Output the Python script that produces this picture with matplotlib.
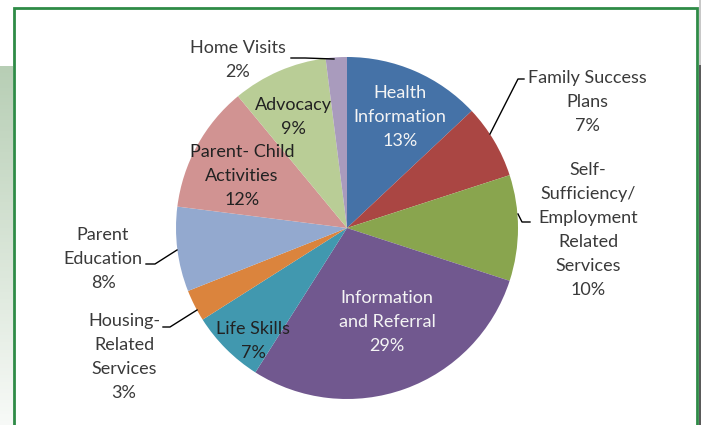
import numpy as np
import matplotlib
matplotlib.use("Agg")
import matplotlib.pyplot as plt

# === DATA ===
categories = ["Health\nInformation", "Family Success\nPlans", "Self-\nSufficiency/\nEmployment\nRelated\nServices",
              "Information\nand Referral", "Life Skills", "Housing-\nRelated\nServices",
              "Parent\nEducation", "Parent- Child\nActivities", "Advocacy", "Home Visits"]
shares = [13, 7, 10, 29, 7, 3, 8, 12, 9, 2]
colors = ["#4572A7", "#AA4643", "#89A54E", "#71588F", "#4198AF",
          "#DB843D", "#93A9CF", "#D19392", "#B9CD96", "#A99BBD"]

# === LAYOUT (pixel coords, y measured from top) ===
W, H = 701, 425
CX, CY, R = 347, 228, 171
label_pos = [(400, 117), (587, 102), (588, 230), (387, 322), (253, 341),
             (124, 357), (103, 259), (242, 176), (293, 117), (238, 60)]
label_col = ["#f4f4f4", "#3a3a3a", "#3a3a3a", "#f4f4f4", "#222222",
             "#3a3a3a", "#3a3a3a", "#222222", "#222222", "#3a3a3a"]
leaders = {
    1: [(524, 79), (518, 79), (490, 134)],
    2: [(518, 214), (522, 222), (530, 222)],
    5: [(163, 327), (170, 327), (197, 310)],
    6: [(146, 264), (155, 264), (177, 250)],
    9: [(291, 58), (305, 58), (334, 59)],
}


def px(x, y):
    return x, H - y


plt.rcParams['font.family'] = ['Lato', 'DejaVu Sans']
fig = plt.figure(figsize=(W / 100, H / 100), dpi=100)
ax = fig.add_axes([0, 0, 1, 1])

ax.pie(shares, colors=colors, startangle=90, counterclock=False,
       center=px(CX, CY), radius=R, frame=False,
       wedgeprops=dict(linewidth=0))

# labels
for i, (cat, val) in enumerate(zip(categories, shares)):
    x, y = px(*label_pos[i])
    ax.text(x, y, f"{cat}\n{val}%", ha='center', va='center', fontsize=13,
            color=label_col[i], linespacing=1.62)

# leader lines
for pts in leaders.values():
    xs, ys = zip(*[px(*p) for p in pts])
    ax.plot(xs, ys, color='black', lw=1)

# === FRAME & BACKGROUND ===
grad = np.linspace(0, 1, 100).reshape(-1, 1)
top_c = np.array([0.72, 0.81, 0.71])
bot_c = np.array([0.97, 0.98, 0.97])
img = top_c + (bot_c - top_c) * grad[..., None]
ax.imshow(img, extent=(0, 13, 0, H - 66), aspect='auto', zorder=0)
ax.add_patch(plt.Rectangle((699, 0), 2, H - 65, color='#5a5a5a', lw=0))
ax.add_patch(plt.Rectangle((699, H - 65), 2, 65, color='#c8c8c8', lw=0))
ax.plot([14, 14, 697, 697], [0, H - 8, H - 8, 0], color='#2E8B46', lw=2,
        solid_joinstyle='miter')

ax.set_xlim(0, W)
ax.set_ylim(0, H)
ax.set_aspect('auto')
ax.axis('off')

fig.savefig("out.png", dpi=100)
